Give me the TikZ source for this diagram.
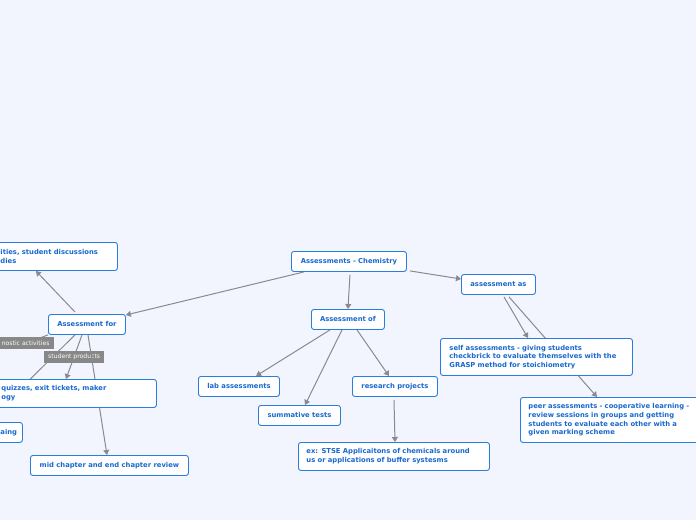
\documentclass[tikz,border=0pt]{standalone}
\usepackage{fontspec}
\setmainfont{DejaVu Sans}
\usetikzlibrary{arrows.meta}
\definecolor{bgc}{RGB}{242,245,253}
\definecolor{bordc}{RGB}{40,125,225}
\definecolor{txtc}{RGB}{25,105,205}
\definecolor{linec}{RGB}{138,138,142}
\definecolor{labc}{RGB}{136,136,136}
\pgfdeclarelayer{bg}
\pgfdeclarelayer{edges}
\pgfsetlayers{bg,edges,main}
\tikzset{
  box/.style={draw=bordc, line width=0.9pt, rounded corners=2.5pt, fill=white,
    font=\fontsize{6.8}{8.7}\selectfont\bfseries, text=txtc, inner sep=0pt,
    anchor=north west, align=center},
  boxl/.style={box, align=left, inner xsep=8pt},
  conn/.style={draw=linec, line width=1pt},
  arr/.style={conn, -{Triangle[length=5pt,width=6pt]}},
  lab/.style={fill=labc, text=white, font=\fontsize{6.1}{7}\selectfont,
    inner xsep=4pt, inner ysep=0pt, minimum height=12pt}
}
\begin{document}
\begin{tikzpicture}[x=1pt,y=-1pt]
\begin{pgfonlayer}{bg}
\fill[bgc] (0,0) rectangle (696,520);
\end{pgfonlayer}
\useasboundingbox (0,0) rectangle (696,520);
\clip (0,0) rectangle (696,520);

\node[box, minimum width=115pt, minimum height=20pt] (c) at (291,251) {Assessments - Chemistry};
\node[box, minimum width=74pt, minimum height=20pt] (aas) at (461,274) {assessment as};
\node[box, minimum width=77pt, minimum height=20pt] (af) at (48,314) {Assessment for};
\node[box, minimum width=73pt, minimum height=20pt] (ao) at (311,309) {Assessment of};
\node[boxl, text width=109pt, minimum height=28pt] (tl) at (-8,242) {ities, student discussions\\dies};
\node[box, minimum width=81pt, minimum height=20pt] (lab) at (198,376) {lab assessments};
\node[box, minimum width=82pt, minimum height=20pt] (sum) at (258,405) {summative tests};
\node[box, minimum width=85pt, minimum height=20pt] (rp) at (352,376) {research projects};
\node[boxl, text width=175pt, minimum height=28pt] (ex) at (298,442) {ex: STSE Applicaitons of chemicals around\\us or applications of buffer systesms};
\node[boxl, inner xsep=9pt, text width=174pt, minimum height=37pt] (self) at (440,338) {self assessments - giving students\\checkbrick to evaluate themselves with the\\GRASP method for stoichiometry};
\node[boxl, text width=170pt, minimum height=45pt] (peer) at (520,397) {peer assessments - cooperative learning -\\review sessions in groups and getting\\students to evaluate each other with a\\given marking scheme};
\node[boxl, text width=147pt, minimum height=28pt] (qz) at (-7,379) {quizzes, exit tickets, maker\\ogy};
\node[boxl, text width=14pt, minimum height=20pt] (ai) at (-8,422) {aing};
\node[box, minimum width=158pt, minimum height=20pt] (mid) at (30,455) {mid chapter and end chapter review};

\coordinate (dg) at (12,348.5);
\coordinate (dq) at (8,401);

\begin{pgfonlayer}{edges}
\draw[arr] ([xshift=13pt]c.south west) -- ([yshift=-1pt]af.north east);
\draw[arr] ([xshift=3pt,yshift=1pt]c.south east) -- ([yshift=-5pt]aas.north west);
\draw[arr] ([xshift=1pt,yshift=-3pt]c.south) -- (ao.north);
\draw[arr] ([xshift=27pt,yshift=2pt]af.north west) -- ([xshift=-82pt]tl.south east);
\draw[conn] (af.south west) -- (dg) node[lab, pos=0.62] {nostic activities};
\draw[conn] ([xshift=27pt]af.south west) -- (dq);
\draw[arr] ([xshift=34pt]af.south west) -- ([xshift=73pt]qz.north west) node[lab, pos=0.49] {student products};
\draw[arr] ([xshift=40pt]af.south west) -- ([xshift=77pt]mid.north west);
\draw[arr] ([xshift=19pt]ao.south west) -- ([xshift=58pt]lab.north west);
\draw[arr] ([xshift=31pt]ao.south west) -- ([xshift=47pt]sum.north west);
\draw[arr] ([xshift=46pt]ao.south west) -- ([xshift=37pt]rp.north west);
\draw[arr] ([xshift=42pt,yshift=-3pt]rp.south west) -- ([xshift=97pt]ex.north west);
\draw[arr] ([xshift=43pt,yshift=-2pt]aas.south west) -- ([xshift=88pt]self.north west);
\draw[arr] ([xshift=48pt,yshift=-2pt]aas.south west) -- ([xshift=77pt]peer.north west);
\end{pgfonlayer}
\end{tikzpicture}
\end{document}
